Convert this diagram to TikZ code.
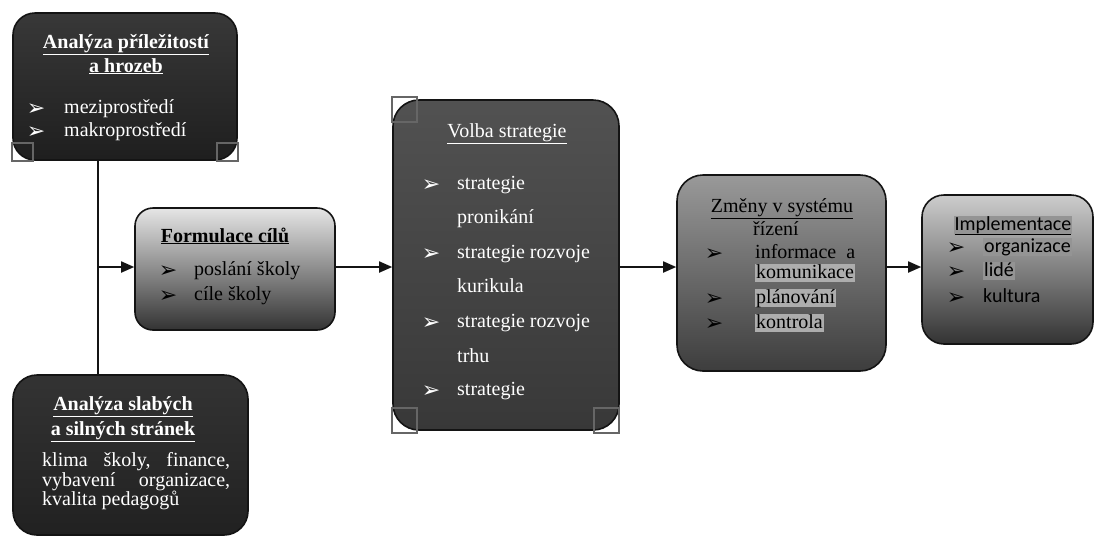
\documentclass[tikz,border=0pt]{standalone}
\usepackage{fontspec}
\setmainfont{Liberation Serif}
\newfontfamily\dejavu{DejaVu Sans}
\newfontfamily\carlito{Carlito}
\usetikzlibrary{arrows.meta}
\tikzset{
  diabox/.style={draw=black!92, line width=1.6pt, rounded corners=#1, inner sep=0pt},
  txt/.style={inner sep=0pt, text height=14pt, text depth=4pt, font=\fontsize{20}{24}\selectfont},
  wt/.style={txt, text=white},
  bt/.style={txt, text=black},
  bul/.style={inner sep=0pt, text height=15pt, text depth=1pt, font=\dejavu\fontsize{22}{22}\selectfont},
  conn/.style={line width=1.8pt, draw=black!92},
  arr/.style={conn, -{Triangle[length=13pt,width=11pt]}},
  hl/.style={fill=black!32, inner xsep=1pt},
  handlefill/.style={fill=white},
  handleline/.style={draw=black!60, line width=1.8pt}
}
\begin{document}
\begin{tikzpicture}[x=1pt,y=-1pt]
\useasboundingbox[fill=white] (0,0) rectangle (1094,542);
% crop handles (background part)
\fill[handlefill] (12,143) rectangle (33,161);
\fill[handlefill] (217,143) rectangle (238,161);
\fill[handlefill] (392,97) rectangle (417,122);
\fill[handlefill] (392,408) rectangle (417,433);
\fill[handlefill] (594,408) rectangle (619,433);
% boxes
\node[diabox=22pt, minimum width=224pt, minimum height=147pt, top color=black!78, bottom color=black!88] (A) at (125,86.5) {};
\node[diabox=24pt, minimum width=235pt, minimum height=160pt, top color=black!80, bottom color=black!87] (B) at (130.5,455) {};
\node[diabox=18pt, minimum width=200pt, minimum height=122pt, top color=black!10, bottom color=black!80] (F) at (235,269) {};
\node[diabox=26pt, minimum width=226pt, minimum height=330pt, top color=black!68, bottom color=black!78] (V) at (506,265) {};
\node[diabox=26pt, minimum width=209pt, minimum height=196pt, top color=black!40, bottom color=black!76] (Z) at (781.5,273) {};
\node[diabox=22pt, minimum width=171pt, minimum height=149pt, top color=black!20, bottom color=black!80] (I) at (1007.5,269.5) {};
% crop handles (outline)
\draw[handleline] (12,143) rectangle (33,161);
\draw[handleline] (217,143) rectangle (238,161);
\draw[handleline] (392,97) rectangle (417,122);
\draw[handleline] (392,408) rectangle (417,433);
\draw[handleline] (594,408) rectangle (619,433);
% connectors
\coordinate (J) at (98,267);
\draw[conn] (A.south -| J) -- (B.north -| J);
\draw[arr] (J) -- (J -| F.west);
\draw[arr] (F.east |- J) -- (V.west |- J);
\draw[arr] (V.east |- J) -- (Z.west |- J);
\draw[arr] (Z.east |- J) -- (I.west |- J);
% box A text
\node[wt, font=\fontsize{20}{24}\selectfont\bfseries] (At1) at (126,43) {\underline{Analýza příležitostí}};
\node[wt, font=\fontsize{20}{24}\selectfont\bfseries] (At2) at (126,67) {\underline{a hrozeb}};
\node[bul, text=white] (Ab1) at (36,108) {➢};
\node[wt, anchor=west] (Ai1) at (64,108) {meziprostředí};
\node[bul, text=white] (Ab2) at (36,131) {➢};
\node[wt, anchor=west] (Ai2) at (64,131) {makroprostředí};
% box B text
\node[wt, font=\fontsize{20}{24}\selectfont\bfseries] (Bt1) at (123,405) {\underline{Analýza slabých}};
\node[wt, font=\fontsize{20}{24}\selectfont\bfseries] (Bt2) at (123,430) {\underline{a silných stránek}};
\node[wt, anchor=west] (Bl1) at (42,461) {\hbox to 188pt{klima\hfill školy,\hfill finance,}};
\node[wt, anchor=west] (Bl2) at (42,481) {\hbox to 188pt{vybavení\hfill organizace,}};
\node[wt, anchor=west] (Bl3) at (42,500) {kvalita pedagogů};
% box F text
\node[bt, font=\fontsize{20}{24}\selectfont\bfseries] (Ft) at (225,237) {\underline{Formulace cílů}};
\node[bul] (Fb1) at (168,270) {➢};
\node[bt, anchor=west] (Fi1) at (194,270) {poslání školy};
\node[bul] (Fb2) at (168,295) {➢};
\node[bt, anchor=west] (Fi2) at (194,295) {cíle školy};
% box V text
\node[wt] (Vt) at (507,132) {\underline{Volba strategie}};
\node[bul, text=white] (Vb1) at (431,184) {➢};
\node[wt, anchor=west] (Vi1) at (457,184) {strategie};
\node[wt, anchor=west] (Vi1b) at (457,218) {pronikání};
\node[bul, text=white] (Vb2) at (431,253) {➢};
\node[wt, anchor=west] (Vi2) at (457,253) {strategie rozvoje};
\node[wt, anchor=west] (Vi2b) at (457,287) {kurikula};
\node[bul, text=white] (Vb3) at (431,322) {➢};
\node[wt, anchor=west] (Vi3) at (457,322) {strategie rozvoje};
\node[wt, anchor=west] (Vi3b) at (457,357) {trhu};
\node[bul, text=white] (Vb4) at (431,390) {➢};
\node[wt, anchor=west] (Vi4) at (457,390) {strategie};
% box Z text
\node[bt] (Zt1) at (782,207) {\underline{Změny v systému}};
\node[bt] (Zt2) at (776,230) {řízení};
\node[bul] (Zb1) at (714,253) {➢};
\node[bt, anchor=west] (Zi1) at (755,253) {informace\ \ a};
\node[bt, anchor=west, hl] (Zi1b) at (755,273) {komunikace};
\node[bul] (Zb2) at (714,298) {➢};
\node[bt, anchor=west, hl] (Zi2) at (755,298) {plánování};
\node[bul] (Zb3) at (714,323) {➢};
\node[bt, anchor=west, hl] (Zi3) at (755,323) {kontrola};
% box I text
\node[bt, font=\carlito\fontsize{20}{24}\selectfont, fill=black!42, inner xsep=1pt] (It) at (1013,225) {\underline{Implementace}};
\node[bul] (Ib1) at (956,247) {➢};
\node[bt, anchor=west, font=\carlito\fontsize{20}{24}\selectfont, fill=black!42, inner xsep=1pt] (Ii1) at (983,247) {organizace};
\node[bul] (Ib2) at (956,271) {➢};
\node[bt, anchor=west, font=\carlito\fontsize{20}{24}\selectfont, fill=black!42, inner xsep=1pt] (Ii2) at (983,271) {lidé};
\node[bul] (Ib3) at (956,297) {➢};
\node[bt, anchor=west, font=\carlito\fontsize{20}{24}\selectfont] (Ii3) at (983,297) {kultura};
\end{tikzpicture}
\end{document}
